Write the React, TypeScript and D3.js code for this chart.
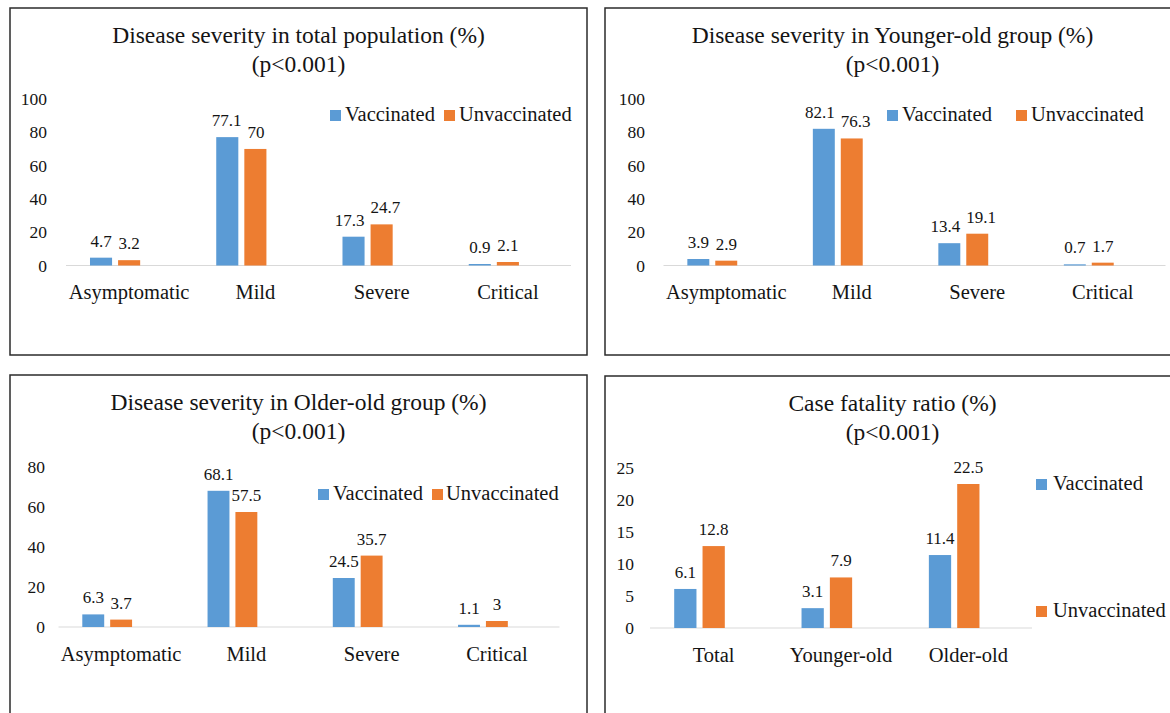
import * as d3 from 'd3'

// series + category data
const series = ['Vaccinated', 'Unvaccinated']
const seriesColors = ['#5B9BD5', '#ED7D31']

const severityCategories = ['Asymptomatic', 'Mild', 'Severe', 'Critical']
const totalVaccinated = [4.7, 77.1, 17.3, 0.9]
const totalUnvaccinated = [3.2, 70, 24.7, 2.1]
const youngerVaccinated = [3.9, 82.1, 13.4, 0.7]
const youngerUnvaccinated = [2.9, 76.3, 19.1, 1.7]
const olderVaccinated = [6.3, 68.1, 24.5, 1.1]
const olderUnvaccinated = [3.7, 57.5, 35.7, 3]

const fatalityCategories = ['Total', 'Younger-old', 'Older-old']
const fatalityVaccinated = [6.1, 3.1, 11.4]
const fatalityUnvaccinated = [12.8, 7.9, 22.5]

const ticks100 = [0, 20, 40, 60, 80, 100]
const ticks80 = [0, 20, 40, 60, 80]
const ticks25 = [0, 5, 10, 15, 20, 25]

const FONT = '"Liberation Serif", "Times New Roman", serif'
const TEXT = '#141414'
const LABEL_SIZE = 17

type LegendItem = { sx: number; sy: number; tx: number }

type PanelConfig = {
  box: { x: number; y: number; w: number; h: number };
  title: string;
  categories: string[];
  vaccinated: number[];
  unvaccinated: number[];
  ticks: number[];
  left: number;
  right: number;
  top: number;
  bottom: number;
  tickX: number;
  legend: LegendItem[];
}

const panels: PanelConfig[] = [
  {
    box: { x: 10, y: 8, w: 577, h: 347 },
    title: 'Disease severity in total population (%)',
    categories: severityCategories,
    vaccinated: totalVaccinated,
    unvaccinated: totalUnvaccinated,
    ticks: ticks100,
    left: 66, right: 571, top: 99, bottom: 265.5, tickX: 47,
    legend: [{ sx: 330, sy: 110, tx: 345 }, { sx: 444, sy: 110, tx: 459 }],
  },
  {
    box: { x: 605, y: 8, w: 575, h: 347 },
    title: 'Disease severity in Younger-old group (%)',
    categories: severityCategories,
    vaccinated: youngerVaccinated,
    unvaccinated: youngerUnvaccinated,
    ticks: ticks100,
    left: 663.5, right: 1165.5, top: 99, bottom: 265.5, tickX: 645,
    legend: [{ sx: 887, sy: 110, tx: 902 }, { sx: 1016, sy: 110, tx: 1031 }],
  },
  {
    box: { x: 10, y: 375, w: 577, h: 360 },
    title: 'Disease severity in Older-old group (%)',
    categories: severityCategories,
    vaccinated: olderVaccinated,
    unvaccinated: olderUnvaccinated,
    ticks: ticks80,
    left: 58.5, right: 559.5, top: 467, bottom: 627, tickX: 45,
    legend: [{ sx: 318, sy: 489, tx: 333 }, { sx: 432, sy: 489, tx: 446 }],
  },
  {
    box: { x: 605, y: 376, w: 575, h: 360 },
    title: 'Case fatality ratio (%)',
    categories: fatalityCategories,
    vaccinated: fatalityVaccinated,
    unvaccinated: fatalityUnvaccinated,
    ticks: ticks25,
    left: 650, right: 1032, top: 468, bottom: 628, tickX: 634,
    legend: [{ sx: 1036, sy: 479, tx: 1053 }, { sx: 1036, sy: 606, tx: 1053 }],
  },
]

// rough width of a number label (serif digits are 0.5em, the dot 0.25em)
const labelWidth = (v: number) =>
  String(v).split('').reduce((w, ch) => w + (ch === '.' ? 0.25 : 0.5), 0) * LABEL_SIZE

const Panel = ({ cfg }: { cfg: PanelConfig }) => {
  const { box } = cfg
  const yMax = cfg.ticks[cfg.ticks.length - 1]

  // outer band per category, inner band keeps a third empty slot like the source chart
  const x0 = d3.scaleBand<string>()
    .domain(cfg.categories)
    .range([cfg.left, cfg.right])
    .paddingInner(0.38)
    .paddingOuter(0.19)
  const x1 = d3.scaleBand<string>()
    .domain([...series, 'blank'])
    .range([0, x0.bandwidth()])
    .paddingInner(0.214)
  const y = d3.scaleLinear().domain([0, yMax]).range([cfg.bottom, cfg.top])

  const values = [cfg.vaccinated, cfg.unvaccinated]
  const cx = box.x + box.w / 2

  return (
    <g>
      <rect x={box.x} y={box.y} width={box.w} height={box.h} fill="white" stroke="#2b2b2b" strokeWidth={1.5} />
      <text x={cx} y={box.y + 35} textAnchor="middle" fontSize={23.5} fill={TEXT}>{cfg.title}</text>
      <text x={cx} y={box.y + 64} textAnchor="middle" fontSize={23.5} fill={TEXT}>(p&lt;0.001)</text>

      {cfg.ticks.map(t => (
        <text key={t} x={cfg.tickX} y={y(t)} dy="0.35em" textAnchor="end" fontSize={17.5} fill={TEXT}>{t}</text>
      ))}

      <line x1={cfg.left} x2={cfg.right} y1={y(0)} y2={y(0)} stroke="#d9d9d9" strokeWidth={1.2} />

      {cfg.categories.map((c, i) => {
        const bars = series.map((s, si) => {
          const v = values[si][i]
          const bx = (x0(c) ?? 0) + (x1(s) ?? 0)
          return { s, si, v, bx, lx: bx + x1.bandwidth() / 2, ly: Math.min(y(v), y(0) - 2) - 11 }
        })
        // push the two value labels apart when they collide
        const [a, b] = bars
        const overlap = (a.lx + labelWidth(a.v) / 2) - (b.lx - labelWidth(b.v) / 2) + 6
        if (overlap > 0 && Math.abs(a.ly - b.ly) < 14) {
          a.lx -= overlap / 2
          b.lx += overlap / 2
        }
        return (
          <g key={c}>
            {bars.map(d => (
              <g key={d.s}>
                <rect x={d.bx} y={y(d.v)} width={x1.bandwidth()} height={y(0) - y(d.v)} fill={seriesColors[d.si]} />
                <text x={d.lx} y={d.ly} textAnchor="middle" fontSize={LABEL_SIZE} fill={TEXT}>{d.v}</text>
              </g>
            ))}
            <text x={(x0(c) ?? 0) + x0.bandwidth() / 2} y={y(0) + 33.5} textAnchor="middle" fontSize={20.5} fill={TEXT}>{c}</text>
          </g>
        )
      })}

      {series.map((s, si) => {
        const l = cfg.legend[si]
        return (
          <g key={s}>
            <rect x={l.sx} y={l.sy} width={11} height={11} fill={seriesColors[si]} />
            <text x={l.tx} y={l.sy + 11} fontSize={20.5} fill={TEXT}>{s}</text>
          </g>
        )
      })}
    </g>
  )
}

export default function App() {
  return (
    <svg
      width={1170}
      height={713}
      viewBox="0 0 1170 713"
      style={{ position: 'absolute', left: 0, top: 0, background: 'white', fontFamily: FONT }}
    >
      <rect x={0} y={0} width={1170} height={713} fill="white" />
      {panels.map(p => <Panel key={p.title} cfg={p} />)}
    </svg>
  )
}
